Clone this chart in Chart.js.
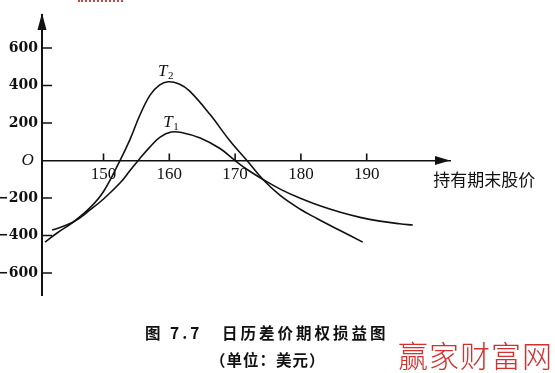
<!DOCTYPE html>
<html>
<head>
<meta charset="utf-8">
<script src="https://cdn.jsdelivr.net/npm/chart.js@4.4.1/dist/chart.umd.min.js"></script>
<style>
  body { margin: 0; background: #fff; }
  #wrap { position: relative; width: 555px; height: 373px; overflow: hidden; }
  #chart { position: absolute; left: 0; top: 0; }
  .cap { position: absolute; font-family: "Noto Sans CJK SC", sans-serif; font-weight: bold; color: #111; white-space: nowrap; }
  #dots { position: absolute; left: 78px; top: 0; width: 45px; border-top: 2px dotted #c44; }
  #mark { position: absolute; left: 398px; top: 332px; font-family: "Noto Sans CJK SC", sans-serif; font-weight: 300; font-size: 30px; color: #d33030; letter-spacing: 1px; }
</style>
</head>
<body>
<div id="wrap">
  <canvas id="chart" width="555" height="373"></canvas>
  <div id="dots"></div>
  <div class="cap" style="left:145px; top:321px; font-size:15.5px; letter-spacing:3px;">图 7.7&nbsp;&nbsp; 日历差价期权损益图</div>
  <div class="cap" style="left:210px; top:348px; font-size:15.5px; letter-spacing:1px;">（单位：美元）</div>
  <div id="mark">赢家财富网</div>
</div>
<script>
// stock price at period end (x) and profit in dollars (y)
var t1Prices = [142.2, 145.4, 148, 150, 152.5, 154, 155.5, 157, 158.6, 160.3, 162, 164.7, 167.7, 170, 172, 174.5, 177, 180, 183, 186, 189, 192, 195, 197];
var t1Values = [-371, -328, -262, -205, -120, -55, 10, 70, 125, 152, 148, 120, 64, 0, -52, -106, -155, -203, -243, -276, -303, -323, -337, -344];

var t2Prices = [141.1, 143, 145.4, 148, 150, 152.5, 154, 155.5, 157.1, 158.5, 159.8, 161.5, 163.1, 166.2, 169.2, 171.8, 174.2, 176.8, 179.9, 182.5, 185.5, 189.4];
var t2Values = [-435, -385, -328, -250, -165, 0, 110, 240, 350, 402, 420, 408, 370, 245, 105, 0, -100, -185, -260, -310, -365, -435];

var xTicks = [150, 160, 170, 180, 190];
var yTicks = [-600, -400, -200, 0, 200, 400, 600];

var axisName = '持有期末股价';

function toPoints(xs, ys) {
    return xs.map(function(x, i) { return { x: x, y: ys[i] }; });
}

// arrows, inward tick marks, curve names and the axis name
var axisDecor = {
    id: 'axisDecor',
    afterDraw: function(chart) {
        var ctx = chart.ctx;
        var xs = chart.scales.x, ys = chart.scales.y;
        var area = chart.chartArea;
        var ax = area.left;
        var y0 = ys.getPixelForValue(0);

        ctx.save();
        ctx.fillStyle = '#111';
        ctx.strokeStyle = '#111';
        ctx.lineWidth = 1.6;

        // y arrow
        ctx.beginPath();
        ctx.moveTo(ax, area.top - 2);
        ctx.lineTo(ax - 4.5, area.top + 15);
        ctx.lineTo(ax + 4.5, area.top + 15);
        ctx.closePath();
        ctx.fill();

        // x arrow
        ctx.beginPath();
        ctx.moveTo(area.right, y0);
        ctx.lineTo(area.right - 15, y0 - 4.5);
        ctx.lineTo(area.right - 15, y0 + 4.5);
        ctx.closePath();
        ctx.fill();

        // tick marks pointing inward
        ctx.beginPath();
        xTicks.forEach(function(v) {
            var px = xs.getPixelForValue(v);
            ctx.moveTo(px, y0);
            ctx.lineTo(px, y0 - 7);
        });
        yTicks.forEach(function(v) {
            if (v === 0) return;
            var py = ys.getPixelForValue(v);
            ctx.moveTo(ax, py);
            ctx.lineTo(ax + 10, py);
        });
        ctx.stroke();

        // curve names
        function tLabel(sub, xv, yv) {
            var px = xs.getPixelForValue(xv), py = ys.getPixelForValue(yv);
            ctx.font = 'italic 17px "Liberation Serif"';
            ctx.textBaseline = 'alphabetic';
            ctx.textAlign = 'left';
            ctx.fillText('T', px - 8, py + 6);
            ctx.font = '11px "Liberation Serif"';
            ctx.fillText(sub, px + 2, py + 9);
        }
        tLabel('2', 159.5, 483);
        tLabel('1', 160.3, 211);

        // axis name
        ctx.font = '17px "Noto Sans CJK SC"';
        ctx.textAlign = 'left';
        ctx.textBaseline = 'middle';
        ctx.fillText(axisName, xs.getPixelForValue(200.1), ys.getPixelForValue(-104));
        ctx.restore();
    }
};

var ctx = document.getElementById('chart').getContext('2d');
var myChart = new Chart(ctx, {
    type: 'line',
    data: {
        datasets: [{
            label: 'T1',
            data: toPoints(t1Prices, t1Values),
            borderColor: '#111',
            borderWidth: 1.6,
            pointRadius: 0,
            tension: 0.4,
            fill: false
        }, {
            label: 'T2',
            data: toPoints(t2Prices, t2Values),
            borderColor: '#111',
            borderWidth: 1.6,
            pointRadius: 0,
            tension: 0.4,
            fill: false
        }]
    },
    options: {
        responsive: false,
        animation: false,
        events: [],
        layout: { padding: { left: 0, top: 15, right: 105, bottom: 78 } },
        plugins: {
            legend: { display: false },
            tooltip: { enabled: false }
        },
        scales: {
            x: {
                type: 'linear',
                min: 140.65,
                max: 202.66,
                position: { y: 0 },
                grid: { display: false, drawTicks: false },
                border: { display: true, color: '#111', width: 1.6 },
                afterBuildTicks: function(scale) {
                    scale.ticks = xTicks.map(function(v) { return { value: v }; });
                },
                ticks: {
                    padding: 4,
                    color: '#111',
                    maxRotation: 0,
                    font: { family: '"Liberation Serif"', size: 17 },
                    callback: function(v) { return String(v); }
                }
            },
            y: {
                type: 'linear',
                min: -717,
                max: 776,
                position: 'left',
                grid: { display: false, drawTicks: false },
                border: { display: true, color: '#111', width: 2 },
                afterFit: function(scale) { scale.width = 42; },
                afterBuildTicks: function(scale) {
                    scale.ticks = yTicks.map(function(v) { return { value: v }; });
                },
                ticks: {
                    padding: 4,
                    color: '#111',
                    font: function(c) {
                        if (c.tick && c.tick.value === 0) {
                            return { family: '"Liberation Serif"', size: 17, style: 'italic' };
                        }
                        return { family: '"DejaVu Serif"', size: 14, weight: 'bold' };
                    },
                    callback: function(v) {
                        if (v === 0) return 'O ';
                        return v < 0 ? '\u2212' + Math.abs(v) : String(v);
                    }
                }
            }
        }
    },
    plugins: [axisDecor]
});
</script>
</body>
</html>
